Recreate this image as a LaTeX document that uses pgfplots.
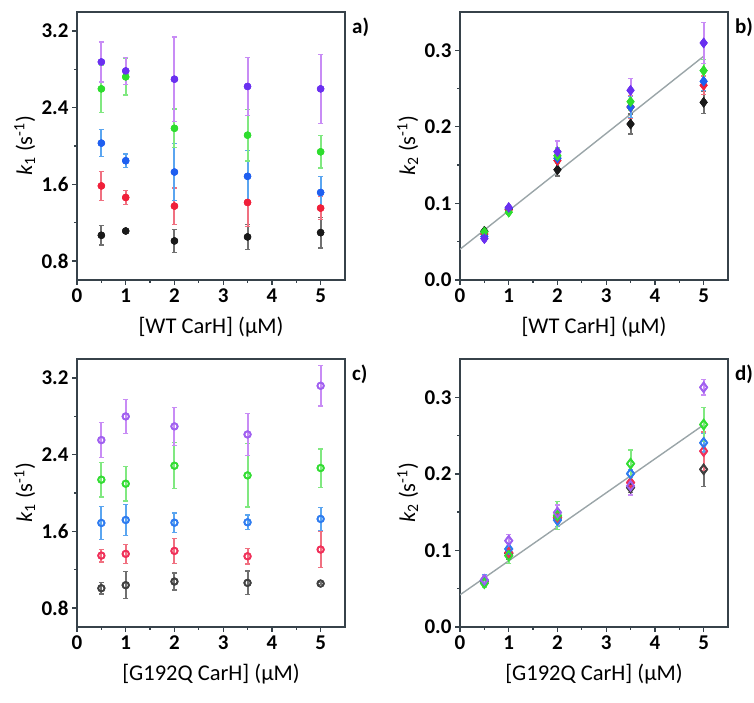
\documentclass[border=0pt]{standalone}
\usepackage{pgfplots}
\usepackage{pgfplotstable}
\pgfplotsset{compat=1.18}
\usepackage{fontspec}
\setmainfont{Carlito}
\definecolor{axc}{HTML}{37424A}
\definecolor{fitc}{HTML}{9AA5A8}
\definecolor{cP}{HTML}{6A30F0}\definecolor{eP}{HTML}{C88CF5}
\definecolor{cG}{HTML}{2EDD2E}\definecolor{eG}{HTML}{80E880}
\definecolor{cB}{HTML}{1F5FF0}\definecolor{eB}{HTML}{5AA5F0}
\definecolor{cR}{HTML}{F0203A}\definecolor{eR}{HTML}{F07080}
\definecolor{cK}{HTML}{1A1A1A}\definecolor{eK}{HTML}{707070}
\definecolor{oP}{HTML}{A060F0}\definecolor{oG}{HTML}{33DD33}
\definecolor{oB}{HTML}{2F7CF0}\definecolor{oR}{HTML}{F0305A}
\definecolor{oK}{HTML}{404040}
% panel a: k1, WT (filled circles)
\pgfplotstableread{
x   k     ek    r     er    b     eb    g     eg    p     ep
0.5 1.067 0.10  1.583 0.15  2.030 0.14  2.597 0.25  2.878 0.21
1   1.112 0.02  1.462 0.075 1.846 0.07  2.722 0.19  2.784 0.14
2   1.008 0.12  1.372 0.19  1.728 0.30  2.185 0.20  2.698 0.44
3.5 1.050 0.13  1.410 0.25  1.683 0.27  2.113 0.27  2.622 0.30
5   1.095 0.16  1.351 0.12  1.514 0.17  1.939 0.17  2.597 0.36
}\ta
% panel b: k2, WT (filled diamonds)
\pgfplotstableread{
x   k      ek    r      er    b      eb    g      eg    p      ep
0.5 0.0637 0.004 0.060  0.004 0.0567 0.004 0.0628 0.004 0.054  0.004
1   0.0925 0.003 0.0916 0.003 0.0938 0.003 0.0885 0.003 0.0946 0.003
2   0.144  0.008 0.156  0.010 0.159  0.012 0.1622 0.010 0.1675 0.014
3.5 0.2037 0.013 0.226  0.015 0.2259 0.014 0.2329 0.012 0.2477 0.015
5   0.232  0.015 0.2543 0.012 0.2595 0.012 0.2734 0.015 0.3096 0.027
}\tb
% panel c: k1, G192Q (open circles)
\pgfplotstableread{
x   k     ek    r     er    b     eb    g     eg    p     ep
0.5 1.005 0.06  1.346 0.066 1.687 0.17  2.139 0.18  2.553 0.18
1   1.037 0.14  1.364 0.10  1.718 0.165 2.097 0.18  2.800 0.18
2   1.075 0.09  1.395 0.13  1.690 0.10  2.285 0.24  2.696 0.20
3.5 1.061 0.125 1.339 0.08  1.694 0.077 2.184 0.33  2.612 0.22
5   1.054 0.01  1.409 0.186 1.729 0.12  2.261 0.20  3.120 0.21
}\tc
% panel d: k2, G192Q (open diamonds)
\pgfplotstableread{
x   k      ek    r      er    b      eb    g      eg    p      ep
0.5 0.060  0.004 0.060  0.005 0.0607 0.008 0.0572 0.006 0.0616 0.005
1   0.0962 0.008 0.097  0.008 0.1019 0.008 0.0932 0.010 0.1127 0.008
2   0.143  0.006 0.143  0.008 0.1396 0.008 0.1456 0.018 0.1495 0.010
3.5 0.182  0.006 0.1886 0.008 0.2003 0.005 0.2133 0.018 0.1842 0.012
5   0.2059 0.022 0.2297 0.025 0.2406 0.012 0.2644 0.022 0.313  0.010
}\td
\pgfplotsset{
 base/.style={scale only axis, width=268pt, height=268pt,
  xmin=0, xmax=5.5, xtick={0,1,2,3,4,5},
  minor x tick num=1, minor y tick num=1,
  tick pos=left, tick align=outside,
  major tick length=5pt, minor tick length=3pt,
  axis line style={line width=1.7pt, color=axc},
  tick style={line width=1.3pt, color=axc},
  /pgf/number format/assume math mode=true,
  ticklabel style={font=\fontsize{21}{23}\selectfont\bfseries, color=black},
  y tick label style={/pgf/number format/.cd, fixed, fixed zerofill, precision=1},
  label style={font=\fontsize{22.5}{25}\selectfont},
  xlabel style={at={(axis description cs:0.5,-0.175)}, anchor=center},
  ylabel style={at={(axis description cs:-0.195,0.5)}, anchor=center},
  every error bar/.append style={line width=2pt},
 },
 kone/.style={ymin=0.6, ymax=3.4, ytick={0.8,1.6,2.4,3.2}},
 ktwo/.style={ymin=0, ymax=0.35, ytick={0,0.1,0.2,0.3}},
 ebar/.style={error bars/y dir=both, error bars/y explicit,
  error bars/error bar style={line width=2pt, color=#1},
  error bars/error mark options={rotate=90, mark size=2.6pt, line width=1.3pt, color=#1}},
 fc/.style={only marks, mark=*, mark size=3.5pt, color=#1},
 fd/.style={only marks, mark=diamond*, mark size=5pt, color=#1},
 oc/.style={only marks, mark=o, mark size=3.2pt, color=#1, mark options={line width=1.7pt, fill=white}},
 od/.style={only marks, mark=diamond, mark size=4.7pt, color=#1, mark options={line width=1.7pt, fill=white}},
}
% #1 table, #2 marker style, #3 colour prefix
\newcommand\series[3]{%
 \addplot[#2=#3K, ebar=eK] table[x=x, y=k, y error=ek] {#1};
 \addplot[#2=#3R, ebar=eR] table[x=x, y=r, y error=er] {#1};
 \addplot[#2=#3B, ebar=eB] table[x=x, y=b, y error=eb] {#1};
 \addplot[#2=#3G, ebar=eG] table[x=x, y=g, y error=eg] {#1};
 \addplot[#2=#3P, ebar=eP] table[x=x, y=p, y error=ep] {#1};
 \addplot[#2=#3K] table[x=x, y=k] {#1};
 \addplot[#2=#3R] table[x=x, y=r] {#1};
 \addplot[#2=#3B] table[x=x, y=b] {#1};
 \addplot[#2=#3G] table[x=x, y=g] {#1};
 \addplot[#2=#3P] table[x=x, y=p] {#1};
}
\begin{document}
\begin{tikzpicture}[x=1pt,y=1pt]
\useasboundingbox (0,0) rectangle (754,703);
% panel a
\begin{axis}[base, kone, name=A, at={(77pt,423pt)}, anchor=south west,
  xlabel={[WT CarH] (μM)}, ylabel={\textit{k}\textsubscript{1} (s\textsuperscript{-1})}]
\series{\ta}{fc}{c}
\end{axis}
% panel b
\begin{axis}[base, ktwo, name=B, at={(460pt,423pt)}, anchor=south west,
  xlabel={[WT CarH] (μM)}, ylabel={\textit{k}\textsubscript{2} (s\textsuperscript{-1})}]
\addplot[no marks, color=fitc, line width=1.4pt] coordinates {(0,0.0401) (5,0.2922)};
\series{\tb}{fd}{c}
\end{axis}
% panel c
\begin{axis}[base, kone, name=C, at={(77pt,76pt)}, anchor=south west,
  xlabel={[G192Q CarH] (μM)}, ylabel={\textit{k}\textsubscript{1} (s\textsuperscript{-1})}]
\series{\tc}{oc}{o}
\end{axis}
% panel d
\begin{axis}[base, ktwo, name=D, at={(460pt,76pt)}, anchor=south west,
  xlabel={[G192Q CarH] (μM)}, ylabel={\textit{k}\textsubscript{2} (s\textsuperscript{-1})}]
\addplot[no marks, color=fitc, line width=1.4pt] coordinates {(0,0.042) (5,0.264)};
\series{\td}{od}{o}
\end{axis}
\foreach \n/\t in {A/a), B/b), C/c), D/d)}
  \node[anchor=north west, font=\fontsize{21}{23}\selectfont\bfseries, inner sep=0pt] at ([xshift=7pt,yshift=-6pt]\n.north east) {\t};
\end{tikzpicture}
\end{document}
